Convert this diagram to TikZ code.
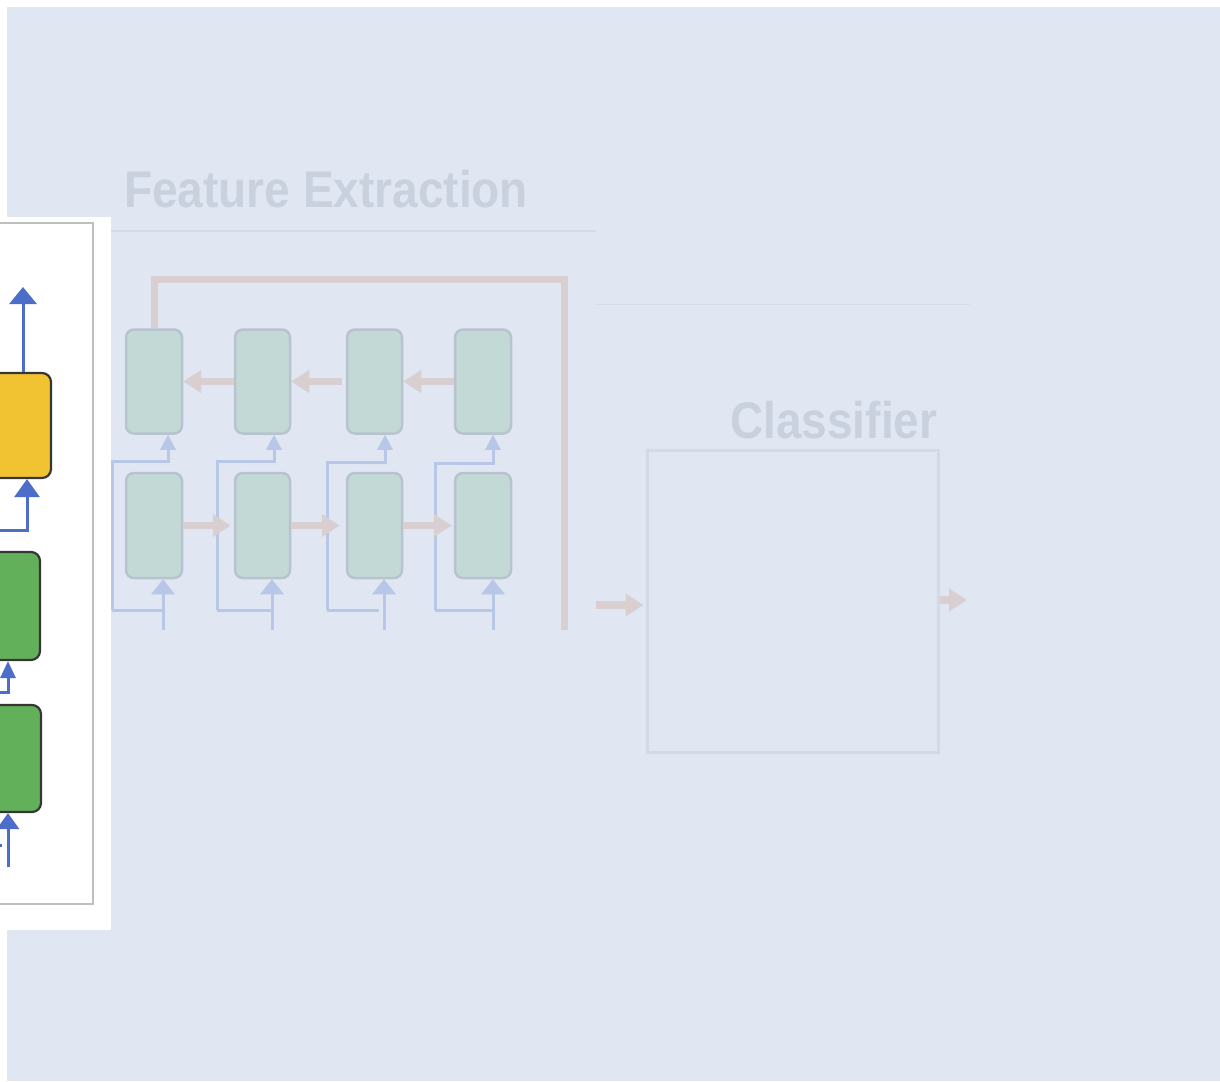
\documentclass[tikz,border=0pt]{standalone}
\usepackage{fontspec}
\setmainfont{Liberation Sans}
\usetikzlibrary{arrows.meta,calc}
\definecolor{bgblue}{HTML}{E0E7F3}
\definecolor{headc}{HTML}{C9D1DE}
\definecolor{rulec}{HTML}{D3DAE8}
\definecolor{faintrule}{HTML}{D6DDEB}
\definecolor{rnnfill}{HTML}{C3D9D6}
\definecolor{rnnborder}{HTML}{B8C3D0}
\definecolor{pinkc}{HTML}{DACFD0}
\definecolor{fbluec}{HTML}{B8C6E8}
\definecolor{sbluec}{HTML}{4C6DC8}
\definecolor{yellowc}{HTML}{F1C232}
\definecolor{greenc}{HTML}{63B05B}
\definecolor{darkb}{HTML}{363636}
\definecolor{panelgray}{HTML}{BFBFBF}
\definecolor{clboxc}{HTML}{D2D9E7}
\begin{document}
\begin{tikzpicture}[x=1pt,y=-1pt,
  headtext/.style={font=\fontsize{46}{50}\selectfont\bfseries, text=headc, inner sep=0pt},
  rnnbox/.style={draw=rnnborder, fill=rnnfill, line width=2.5pt, rounded corners=8pt,
    minimum width=56pt, minimum height=104pt, inner sep=0pt},
  pinkarrow/.style={draw=pinkc, line width=7.5pt, -{Triangle[width=22pt,length=18pt]}},
  pinkline/.style={draw=pinkc, line width=7pt},
  fblue/.style={draw=fbluec, line width=3pt},
  fbluebig/.style={fblue, -{Triangle[width=23pt,length=15pt]}},
  fbluesmall/.style={fblue, -{Triangle[width=15pt,length=15pt]}},
  sblue/.style={draw=sbluec, line width=3pt},
  panelbox/.style={draw=darkb, line width=2.2pt, rounded corners=9pt, inner sep=0pt},
  clbox/.style={draw=clboxc, line width=3pt, inner sep=0pt, minimum width=291pt, minimum height=302pt}
]
\useasboundingbox (0,0) rectangle (1220,1081);
\fill[white] (0,0) rectangle (1220,1081);
\fill[bgblue] (7,7) rectangle (1220,1081);
\begin{scope}
\clip (0,0) rectangle (1220,1081);

% headings and rules
\node[headtext, anchor=base west] (fe) at (124,207) {\scalebox{1}[1.12]{Feature Extraction}};
\draw[rulec, line width=2.5pt] (111,231) -- (596,231);
\draw[faintrule, line width=1pt] (596,304) -- (970,304);
\node[headtext, anchor=base west] (clt) at (730,438) {\scalebox{1}[1.12]{Classifier}};

% RNN boxes
\node[rnnbox] (t1) at (154,381.5) {};
\node[rnnbox, minimum width=55pt] (t2) at (262.5,381.5) {};
\node[rnnbox, minimum width=55pt] (t3) at (374.5,381.5) {};
\node[rnnbox] (t4) at (483,381.5) {};
\node[rnnbox, minimum height=105pt] (b1) at (154,525.5) {};
\node[rnnbox, minimum height=105pt, minimum width=55pt] (b2) at (262.5,525.5) {};
\node[rnnbox, minimum height=105pt, minimum width=55pt] (b3) at (374.5,525.5) {};
\node[rnnbox, minimum height=105pt] (b4) at (483,525.5) {};

% faded blue inputs
\coordinate (in1) at (163,630);
\coordinate (in2) at (272,630);
\coordinate (in3) at (384,630);
\coordinate (in4) at (493,630);
\coordinate (h1) at (112,610);
\coordinate (h2) at (217,610);
\coordinate (h3) at (327,610);
\coordinate (h4) at (435,610);
\coordinate (e3) at (379,610);
\coordinate (u1) at (168,461);
\coordinate (u2) at (274,461);
\coordinate (u3) at (385,462);
\coordinate (u4) at (493,463);

\draw[fblue] (h1) -- (h1 -| in1);
\draw[fblue] (h2) -- (h2 -| in2);
\draw[fblue] (h3) -- (e3);
\draw[fblue] (h4) -- (h4 -| in4);
\draw[fbluesmall] (h1) |- (u1) -- (u1 |- t1.south);
\draw[fbluesmall] (h2) |- (u2) -- (u2 |- t2.south);
\draw[fbluesmall] (h3) |- (u3) -- (u3 |- t3.south);
\draw[fbluesmall] (h4) |- (u4) -- (u4 |- t4.south);
\draw[fbluebig] (in1) -- (in1 |- b1.south);
\draw[fbluebig] (in2) -- (in2 |- b2.south);
\draw[fbluebig] (in3) -- (in3 |- b3.south);
\draw[fbluebig] (in4) -- (in4 |- b4.south);

% pink arrows
\draw[pinkarrow] (t2.west) -- (t1.east);
\draw[pinkarrow, shorten <=4pt] (t3.west) -- (t2.east);
\draw[pinkarrow] (t4.west) -- (t3.east);
\draw[pinkarrow, shorten >=3pt] (b1.east) -- (b2.west);
\draw[pinkarrow, shorten >=6pt] (b2.east) -- (b3.west);
\draw[pinkarrow, shorten >=2pt] (b3.east) -- (b4.west);
\coordinate (fr) at (564,279);
\coordinate (fb) at (564,630);
\draw[pinkline] (t1.north) |- (fr) -- (fb);

% classifier
\node[clbox] (cl) at (792.5,601) {};
\coordinate (ci) at (596,605);
\draw[pinkarrow, shorten >=2pt] (ci) -- (ci -| cl.west);
\coordinate (co) at (967,600);
\draw[pinkarrow] (co -| cl.east) -- (co);

% left panel
\fill[white] (-10,217) rectangle (111,930);
\draw[panelgray, line width=2.5pt] (-10,223) rectangle (93,904);
\node[panelbox, fill=yellowc, minimum width=91pt, minimum height=105pt] (y1) at (5.5,425.5) {};
\node[panelbox, fill=greenc, minimum width=80pt, minimum height=108pt] (g1) at (0,606) {};
\node[panelbox, fill=greenc, minimum width=81pt, minimum height=107pt] (g2) at (0.5,758.5) {};

\coordinate (yo) at (23,287);
\draw[sblue, -{Triangle[width=27pt,length=17pt]}] (yo |- y1.north) -- (yo);
\coordinate (yL) at (-5,530);
\coordinate (yx) at (27,0);
\draw[sblue, -{Triangle[width=25pt,length=18pt]}] (yL) -| (y1.south -| yx);
\coordinate (gL) at (-5,692);
\coordinate (gx) at (8,0);
\draw[sblue, -{Triangle[width=15pt,length=17pt]}] (gL) -| (g1.south -| gx);
\coordinate (gin) at (8,867);
\draw[sblue, -{Triangle[width=22pt,length=16pt]}] (gin) -- (gin |- g2.south);
\coordinate (tkL) at (-5,845);
\coordinate (tk) at (2,845);
\draw[sblue] (tkL) -- (tk);
\end{scope}
\end{tikzpicture}
\end{document}
